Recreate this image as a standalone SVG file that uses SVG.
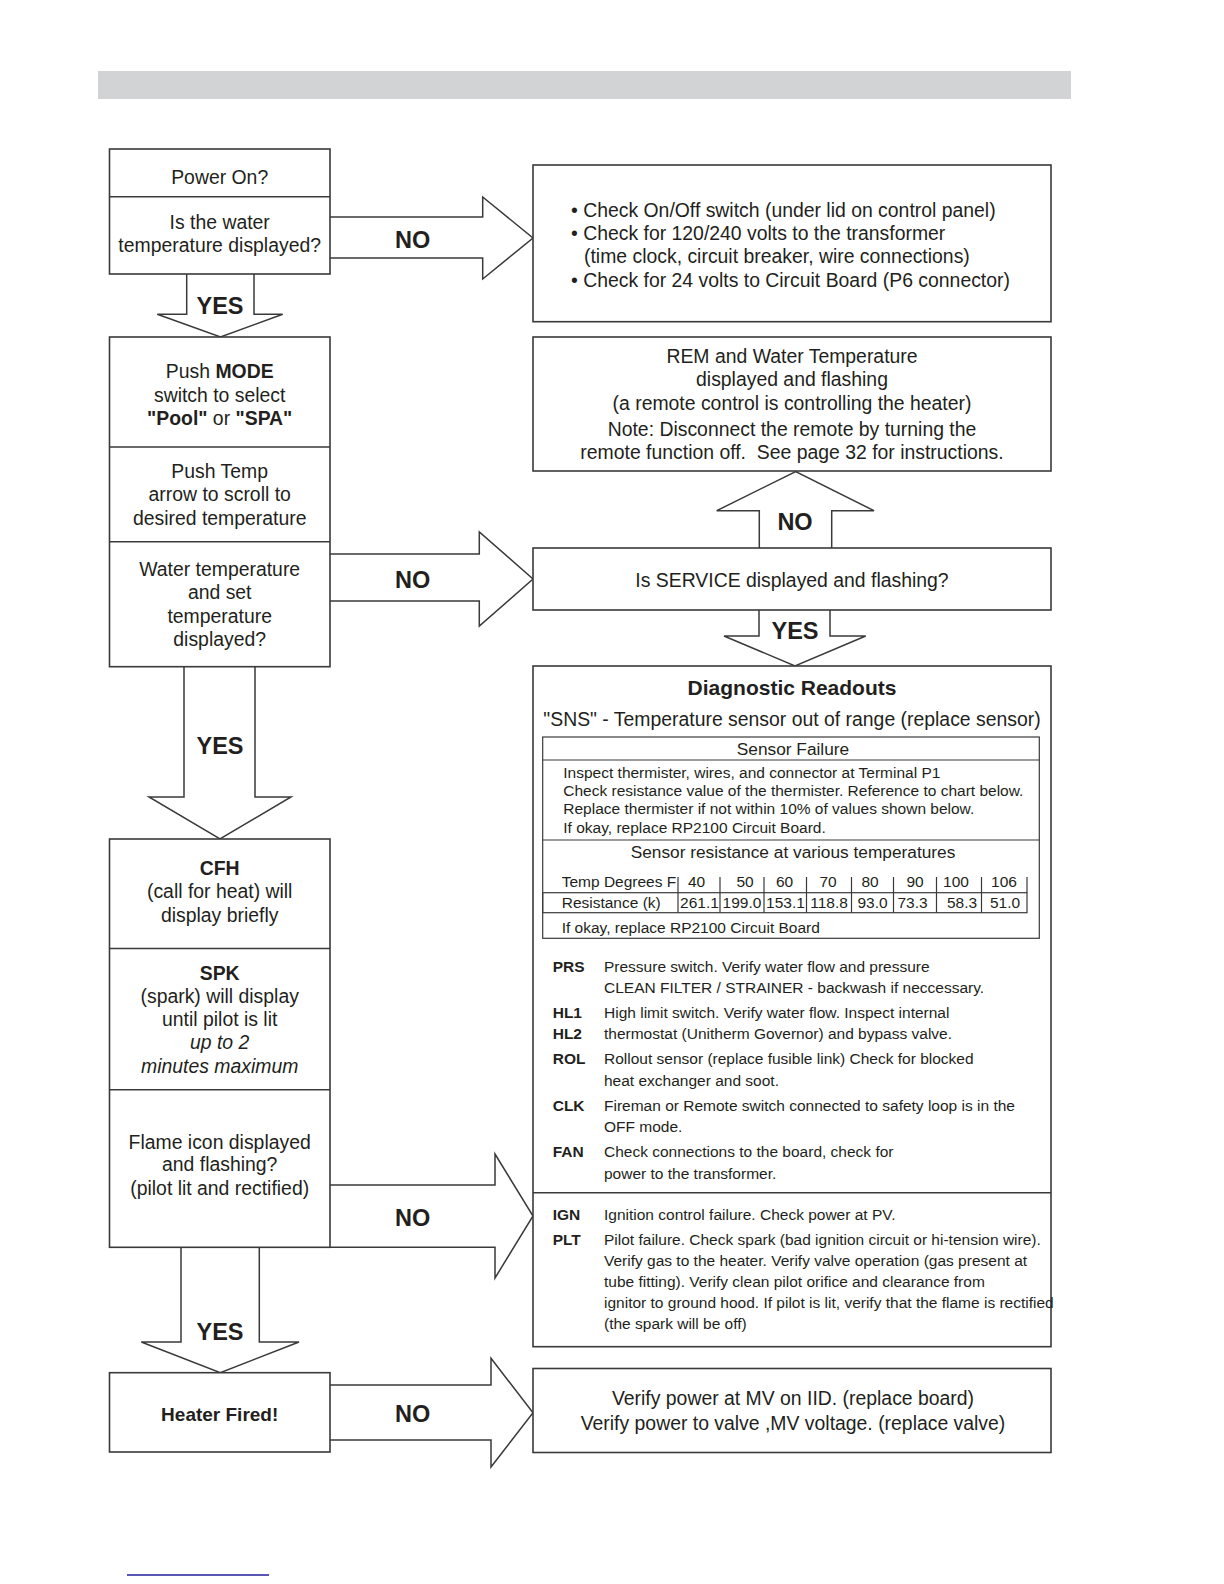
<svg xmlns="http://www.w3.org/2000/svg" width="1224" height="1584" viewBox="0 0 1224 1584">
<style>
.box{fill:#fff;stroke:#3a3a3a;stroke-width:1.6}
.ln{stroke:#3a3a3a;stroke-width:1.6;fill:none}
.thin{stroke:#3a3a3a;stroke-width:1.2;fill:none}
.arr{fill:#fff;stroke:#3a3a3a;stroke-width:1.5}
text{font-family:"Liberation Sans",Arial,Helvetica,sans-serif;fill:#231f20}
.t{font-size:19.4px}
.c{text-anchor:middle}
.b{font-weight:bold}
.lbl{font-size:23.5px;font-weight:bold;text-anchor:middle}
.s{font-size:15.5px}
.m{font-size:17.3px}
</style>
<rect x="98" y="71" width="973" height="28" fill="#d1d3d4"/>

<g id="connectors">
  <polyline class="arr" points="330,217 482.7,217 482.7,197 533,238 482.7,279 482.7,258 330,258"/>
  <polyline class="arr" points="330,554 479.3,554 479.3,532 533,579 479.3,626 479.3,601 330,601"/>
  <polyline class="arr" points="330,1185 495,1185 495,1154 533,1216 495,1278 495,1247.3 330,1247.3"/>
  <polyline class="arr" points="330,1385 491,1385 491,1358.3 533,1412.7 491,1467 491,1440 330,1440"/>
  <polyline class="arr" points="186.7,274 186.7,314.3 157.3,314.3 220.5,337 282.7,314.3 254,314.3 254,274"/>
  <polyline class="arr" points="184,666.7 184,797 149,797 220,839 291,797 255,797 255,666.7"/>
  <polyline class="arr" points="181,1247.3 181,1342 141.3,1342 220.3,1372.7 299,1342 259.3,1342 259.3,1247.3"/>
  <polyline class="arr" points="759,610 759,636 724,636 795,666 865.7,636 830,636 830,610"/>
  <polyline class="arr" points="759.3,548 759.3,510.7 716.7,510.7 795.7,471.5 874,510.7 831.7,510.7 831.7,548"/>
  <text class="lbl" x="412.7" y="247.5">NO</text>
  <text class="lbl" x="412.7" y="588">NO</text>
  <text class="lbl" x="412.7" y="1226">NO</text>
  <text class="lbl" x="412.7" y="1421.5">NO</text>
  <text class="lbl" x="220" y="313.5">YES</text>
  <text class="lbl" x="220" y="753.5">YES</text>
  <text class="lbl" x="220" y="1339.5">YES</text>
  <text class="lbl" x="795" y="638.5">YES</text>
  <text class="lbl" x="795" y="529.5">NO</text>
</g>

<g id="power-on">
  <rect class="box" x="109.5" y="149" width="220.5" height="125"/>
  <line class="ln" x1="109.5" y1="196.7" x2="330" y2="196.7"/>
  <text class="t c" x="219.7" y="183.7">Power On?</text>
  <text class="t c" x="219.7" y="228.7">Is the water</text>
  <text class="t c" x="219.7" y="252">temperature displayed?</text>
</g>

<g id="mode-temp">
  <rect class="box" x="109.5" y="337" width="220.5" height="329.7"/>
  <line class="ln" x1="109.5" y1="447" x2="330" y2="447"/>
  <line class="ln" x1="109.5" y1="541.7" x2="330" y2="541.7"/>
  <text class="t c" x="219.7" y="378.3">Push <tspan class="b">MODE</tspan></text>
  <text class="t c" x="219.7" y="401.5">switch to select</text>
  <text class="t c" x="219.7" y="424.7"><tspan class="b">"Pool"</tspan> or <tspan class="b">"SPA"</tspan></text>
  <text class="t c" x="219.7" y="478">Push Temp</text>
  <text class="t c" x="219.7" y="501.4">arrow to scroll to</text>
  <text class="t c" x="219.7" y="524.6">desired temperature</text>
  <text class="t c" x="219.7" y="576.3">Water temperature</text>
  <text class="t c" x="219.7" y="599.3">and set</text>
  <text class="t c" x="219.7" y="622.7">temperature</text>
  <text class="t c" x="219.7" y="646">displayed?</text>
</g>

<g id="ignition-sequence">
  <rect class="box" x="109.5" y="839" width="220.5" height="408.3"/>
  <line class="ln" x1="109.5" y1="948.5" x2="330" y2="948.5"/>
  <line class="ln" x1="109.5" y1="1089.7" x2="330" y2="1089.7"/>
  <text class="t c b" x="219.7" y="874.7">CFH</text>
  <text class="t c" x="219.7" y="898">(call for heat) will</text>
  <text class="t c" x="219.7" y="922">display briefly</text>
  <text class="t c b" x="219.7" y="979.7">SPK</text>
  <text class="t c" x="219.7" y="1003">(spark) will display</text>
  <text class="t c" x="219.7" y="1026">until pilot is lit</text>
  <text class="t c" x="219.7" y="1049" font-style="italic">up to 2</text>
  <text class="t c" x="219.7" y="1072.5" font-style="italic">minutes maximum</text>
  <text class="t c" x="219.7" y="1148.7">Flame icon displayed</text>
  <text class="t c" x="219.7" y="1171.3">and flashing?</text>
  <text class="t c" x="219.7" y="1194.7">(pilot lit and rectified)</text>
</g>

<g id="heater-fired">
  <rect class="box" x="109.5" y="1372.7" width="220.5" height="79.3"/>
  <text class="c b" x="219.7" y="1421" font-size="19px">Heater Fired!</text>
</g>

<g id="power-checks">
  <rect class="box" x="533" y="165" width="518" height="156.7"/>
  <text class="t" x="571" y="217">• Check On/Off switch (under lid on control panel)</text>
  <text class="t" x="571" y="240">• Check for 120/240 volts to the transformer</text>
  <text class="t" x="584" y="263">(time clock, circuit breaker, wire connections)</text>
  <text class="t" x="571" y="286.5">• Check for 24 volts to Circuit Board (P6 connector)</text>
</g>

<g id="remote-control">
  <rect class="box" x="533" y="337" width="518" height="134"/>
  <text class="t c" x="792" y="363">REM and Water Temperature</text>
  <text class="t c" x="792" y="386.4">displayed and flashing</text>
  <text class="t c" x="792" y="409.6">(a remote control is controlling the heater)</text>
  <text class="t c" x="792" y="435.8">Note: Disconnect the remote by turning the</text>
  <text class="t c" x="792" y="459">remote function off.&#160; See page 32 for instructions.</text>
</g>

<g id="service">
  <rect class="box" x="533" y="548" width="518" height="62"/>
  <text class="t c" x="792" y="587">Is SERVICE displayed and flashing?</text>
</g>

<g id="diagnostic-readouts">
  <rect class="box" x="533" y="666" width="518" height="680.7"/>
  <text class="c b" x="792" y="694.6" font-size="21px">Diagnostic Readouts</text>
  <text class="t c" x="792" y="726">"SNS" - Temperature sensor out of range (replace sensor)</text>
  <rect class="thin" x="542.7" y="737" width="496.6" height="201.3"/>
  <line class="thin" x1="542.7" y1="760" x2="1039.3" y2="760"/>
  <line class="thin" x1="542.7" y1="840" x2="1039.3" y2="840"/>
  <text class="m c" x="793" y="755">Sensor Failure</text>
  <text class="s" x="563.3" y="777.5">Inspect thermister, wires, and connector at Terminal P1</text>
  <text class="s" x="563.3" y="795.5">Check resistance value of the thermister. Reference to chart below.</text>
  <text class="s" x="563.3" y="814">Replace thermister if not within 10% of values shown below.</text>
  <text class="s" x="563.3" y="832.5">If okay, replace RP2100 Circuit Board.</text>
  <text class="m c" x="793" y="857.5">Sensor resistance at various temperatures</text>
  <text class="s" x="561.7" y="886.7">Temp Degrees F</text>
  <g class="thin">
    <line x1="678" y1="877" x2="678" y2="892.7"/><line x1="720" y1="877" x2="720" y2="892.7"/>
    <line x1="764" y1="877" x2="764" y2="892.7"/><line x1="806.5" y1="877" x2="806.5" y2="892.7"/>
    <line x1="851.5" y1="877" x2="851.5" y2="892.7"/><line x1="893.5" y1="877" x2="893.5" y2="892.7"/>
    <line x1="936.5" y1="877" x2="936.5" y2="892.7"/><line x1="981.5" y1="877" x2="981.5" y2="892.7"/>
    <line x1="1027" y1="877" x2="1027" y2="892.7"/>
  </g>
  <text class="s c" x="696.5" y="886.7">40</text>
  <text class="s c" x="745" y="886.7">50</text>
  <text class="s c" x="784.5" y="886.7">60</text>
  <text class="s c" x="828" y="886.7">70</text>
  <text class="s c" x="870" y="886.7">80</text>
  <text class="s c" x="915" y="886.7">90</text>
  <text class="s c" x="956" y="886.7">100</text>
  <text class="s c" x="1004" y="886.7">106</text>
  <rect class="thin" x="542.7" y="892.7" width="484.3" height="20"/>
  <g class="thin">
    <line x1="678" y1="892.7" x2="678" y2="912.7"/><line x1="720" y1="892.7" x2="720" y2="912.7"/>
    <line x1="764" y1="892.7" x2="764" y2="912.7"/><line x1="806.5" y1="892.7" x2="806.5" y2="912.7"/>
    <line x1="851.5" y1="892.7" x2="851.5" y2="912.7"/><line x1="893.5" y1="892.7" x2="893.5" y2="912.7"/>
    <line x1="936.5" y1="892.7" x2="936.5" y2="912.7"/><line x1="981.5" y1="892.7" x2="981.5" y2="912.7"/>
  </g>
  <text class="s" x="561.7" y="908">Resistance (k)</text>
  <text class="s c" x="699.5" y="908">261.1</text>
  <text class="s c" x="742" y="908">199.0</text>
  <text class="s c" x="785.5" y="908">153.1</text>
  <text class="s c" x="829" y="908">118.8</text>
  <text class="s c" x="872.5" y="908">93.0</text>
  <text class="s c" x="912.5" y="908">73.3</text>
  <text class="s c" x="962" y="908">58.3</text>
  <text class="s c" x="1005" y="908">51.0</text>
  <text class="s" x="561.7" y="933.3">If okay, replace RP2100 Circuit Board</text>

  <text class="s b" x="552.7" y="972">PRS</text>
  <text class="s" x="604" y="972">Pressure switch. Verify water flow and pressure</text>
  <text class="s" x="604" y="993">CLEAN FILTER / STRAINER - backwash if neccessary.</text>
  <text class="s b" x="552.7" y="1017.5">HL1</text>
  <text class="s" x="604" y="1017.5">High limit switch. Verify water flow. Inspect internal</text>
  <text class="s b" x="552.7" y="1039">HL2</text>
  <text class="s" x="604" y="1039">thermostat (Unitherm Governor) and bypass valve.</text>
  <text class="s b" x="552.7" y="1064">ROL</text>
  <text class="s" x="604" y="1064">Rollout sensor (replace fusible link) Check for blocked</text>
  <text class="s" x="604" y="1086">heat exchanger and soot.</text>
  <text class="s b" x="552.7" y="1110.6">CLK</text>
  <text class="s" x="604" y="1110.6">Fireman or Remote switch connected to safety loop is in the</text>
  <text class="s" x="604" y="1132.3">OFF mode.</text>
  <text class="s b" x="552.7" y="1157.3">FAN</text>
  <text class="s" x="604" y="1157.3">Check connections to the board, check for</text>
  <text class="s" x="604" y="1178.8">power to the transformer.</text>
  <line class="ln" x1="533" y1="1192.7" x2="1051" y2="1192.7"/>
  <text class="s b" x="552.7" y="1220">IGN</text>
  <text class="s" x="604" y="1220">Ignition control failure. Check power at PV.</text>
  <text class="s b" x="552.7" y="1245">PLT</text>
  <text class="s" x="604" y="1245">Pilot failure. Check spark (bad ignition circuit or hi-tension wire).</text>
  <text class="s" x="604" y="1266">Verify gas to the heater. Verify valve operation (gas present at</text>
  <text class="s" x="604" y="1287">tube fitting). Verify clean pilot orifice and clearance from</text>
  <text class="s" x="604" y="1308">ignitor to ground hood. If pilot is lit, verify that the flame is rectified</text>
  <text class="s" x="604" y="1329">(the spark will be off)</text>
</g>

<g id="verify-power">
  <rect class="box" x="533" y="1368.5" width="518" height="84"/>
  <text class="t c" x="793" y="1404.5">Verify power at MV on IID. (replace board)</text>
  <text class="t c" x="793" y="1429.7">Verify power to valve ,MV voltage. (replace valve)</text>
</g>

<line x1="127" y1="1575" x2="269" y2="1575" stroke="#1f1f9a" stroke-width="1.5"/>
</svg>
